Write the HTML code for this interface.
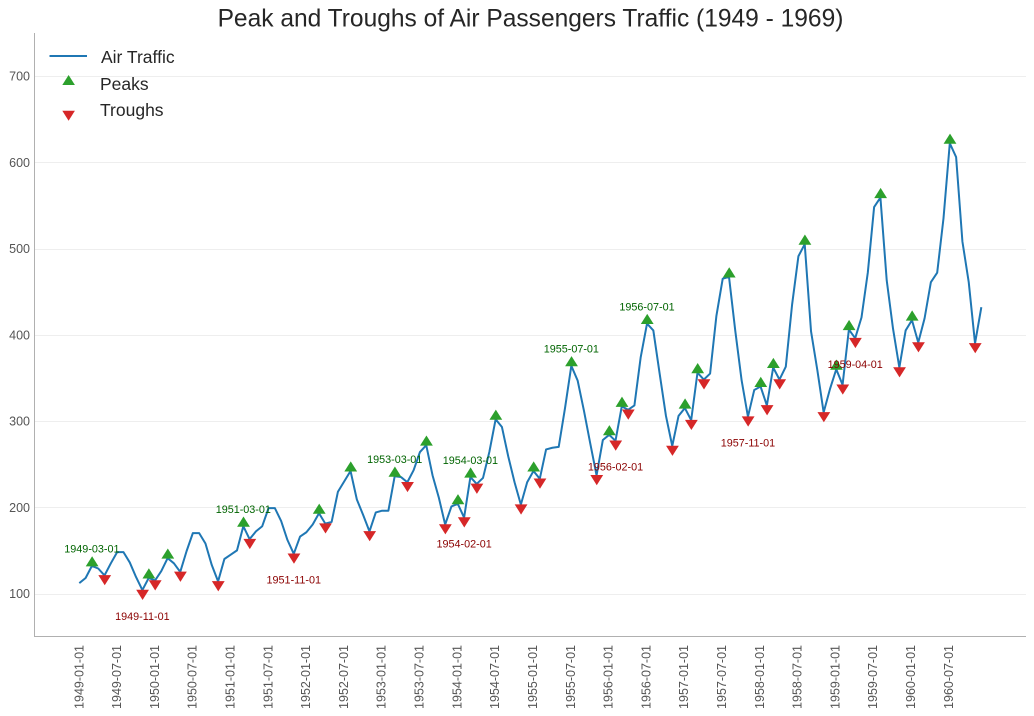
<!DOCTYPE html>
<html>
<head>
<meta charset="utf-8">
<title>Peak and Troughs of Air Passengers Traffic</title>
<style>
html,body{margin:0;padding:0;background:#fff;}
svg{display:block;font-family:"Liberation Sans",sans-serif;}
</style>
</head>
<body>
<svg id="chart" width="1034" height="716" viewBox="0 0 1034 716" xmlns="http://www.w3.org/2000/svg">
  <rect x="0" y="0" width="1034" height="716" fill="#ffffff"/>
  <text x="530.5" y="26.5" text-anchor="middle" font-size="24.55" fill="#262626">Peak and Troughs of Air Passengers Traffic (1949 - 1969)</text>
  <g id="grid"></g>
  <line x1="34.5" y1="33" x2="34.5" y2="636.5" stroke="#b0b0b0" stroke-width="1"/>
  <line x1="34" y1="636.5" x2="1026" y2="636.5" stroke="#b0b0b0" stroke-width="1"/>
  <g id="yticks"></g>
  <g id="xticks"></g>
  <path id="traffic-line" fill="none" stroke="#1f77b4" stroke-width="2" stroke-linejoin="round"/>
  <g id="peaks"></g>
  <g id="troughs"></g>
  <g id="labels"></g>
  <g>
    <g>
      <line x1="49.5" y1="56" x2="87" y2="56" stroke="#1f77b4" stroke-width="2"/>
      <text x="101" y="63" font-size="17.5" fill="#262626">Air Traffic</text>
    </g>
    <g>
      <polygon points="62.3,85 74.9,85 68.6,75" fill="#2ca02c"/>
      <text x="100" y="90" font-size="17.5" fill="#262626">Peaks</text>
    </g>
    <g>
      <polygon points="62.3,110.8 74.9,110.8 68.6,120.8" fill="#d62728"/>
      <text x="100" y="116" font-size="17.5" fill="#262626">Troughs</text>
    </g>
  </g>
</svg>
<script>
const categories = [
  "1949-01-01","1949-02-01","1949-03-01","1949-04-01","1949-05-01","1949-06-01","1949-07-01","1949-08-01","1949-09-01","1949-10-01","1949-11-01","1949-12-01",
  "1950-01-01","1950-02-01","1950-03-01","1950-04-01","1950-05-01","1950-06-01","1950-07-01","1950-08-01","1950-09-01","1950-10-01","1950-11-01","1950-12-01",
  "1951-01-01","1951-02-01","1951-03-01","1951-04-01","1951-05-01","1951-06-01","1951-07-01","1951-08-01","1951-09-01","1951-10-01","1951-11-01","1951-12-01",
  "1952-01-01","1952-02-01","1952-03-01","1952-04-01","1952-05-01","1952-06-01","1952-07-01","1952-08-01","1952-09-01","1952-10-01","1952-11-01","1952-12-01",
  "1953-01-01","1953-02-01","1953-03-01","1953-04-01","1953-05-01","1953-06-01","1953-07-01","1953-08-01","1953-09-01","1953-10-01","1953-11-01","1953-12-01",
  "1954-01-01","1954-02-01","1954-03-01","1954-04-01","1954-05-01","1954-06-01","1954-07-01","1954-08-01","1954-09-01","1954-10-01","1954-11-01","1954-12-01",
  "1955-01-01","1955-02-01","1955-03-01","1955-04-01","1955-05-01","1955-06-01","1955-07-01","1955-08-01","1955-09-01","1955-10-01","1955-11-01","1955-12-01",
  "1956-01-01","1956-02-01","1956-03-01","1956-04-01","1956-05-01","1956-06-01","1956-07-01","1956-08-01","1956-09-01","1956-10-01","1956-11-01","1956-12-01",
  "1957-01-01","1957-02-01","1957-03-01","1957-04-01","1957-05-01","1957-06-01","1957-07-01","1957-08-01","1957-09-01","1957-10-01","1957-11-01","1957-12-01",
  "1958-01-01","1958-02-01","1958-03-01","1958-04-01","1958-05-01","1958-06-01","1958-07-01","1958-08-01","1958-09-01","1958-10-01","1958-11-01","1958-12-01",
  "1959-01-01","1959-02-01","1959-03-01","1959-04-01","1959-05-01","1959-06-01","1959-07-01","1959-08-01","1959-09-01","1959-10-01","1959-11-01","1959-12-01",
  "1960-01-01","1960-02-01","1960-03-01","1960-04-01","1960-05-01","1960-06-01","1960-07-01","1960-08-01","1960-09-01","1960-10-01","1960-11-01","1960-12-01"
];
const trafficValues = [
  112,118,132,129,121,135,148,148,136,119,104,118,
  115,126,141,135,125,149,170,170,158,133,114,140,
  145,150,178,163,172,178,199,199,184,162,146,166,
  171,180,193,181,183,218,230,242,209,191,172,194,
  196,196,236,235,229,243,264,272,237,211,180,201,
  204,188,235,227,234,264,302,293,259,229,203,229,
  242,233,267,269,270,315,364,347,312,274,237,278,
  284,277,317,313,318,374,413,405,355,306,271,306,
  315,301,356,348,355,422,465,467,404,347,305,336,
  340,318,362,348,363,435,491,505,404,359,310,337,
  360,342,406,396,420,472,548,559,463,407,362,405,
  417,391,419,461,472,535,622,606,508,461,390,432
];
const peakDates = ["1949-03-01","1949-12-01","1950-03-01","1951-03-01","1952-03-01","1952-08-01","1953-03-01","1953-08-01","1954-01-01","1954-03-01","1954-07-01","1955-01-01","1955-07-01","1956-01-01","1956-03-01","1956-07-01","1957-01-01","1957-03-01","1957-08-01","1958-01-01","1958-03-01","1958-08-01","1959-01-01","1959-03-01","1959-08-01","1960-01-01","1960-07-01"];
const troughDates = ["1949-05-01","1949-11-01","1950-01-01","1950-05-01","1950-11-01","1951-04-01","1951-11-01","1952-04-01","1952-11-01","1953-05-01","1953-11-01","1954-02-01","1954-04-01","1954-11-01","1955-02-01","1955-11-01","1956-02-01","1956-04-01","1956-11-01","1957-02-01","1957-04-01","1957-11-01","1958-02-01","1958-04-01","1958-11-01","1959-02-01","1959-04-01","1959-11-01","1960-02-01","1960-11-01"];
const peakLabels = ["1949-03-01","1951-03-01","1953-03-01","1954-03-01","1955-07-01","1956-07-01"];
const troughLabels = ["1949-11-01","1951-11-01","1954-02-01","1956-02-01","1957-11-01","1959-04-01"];
const xTickLabels = ["1949-01-01","1949-07-01","1950-01-01","1950-07-01","1951-01-01","1951-07-01","1952-01-01","1952-07-01","1953-01-01","1953-07-01","1954-01-01","1954-07-01","1955-01-01","1955-07-01","1956-01-01","1956-07-01","1957-01-01","1957-07-01","1958-01-01","1958-07-01","1959-01-01","1959-07-01","1960-01-01","1960-07-01"];
const yTickValues = [100,200,300,400,500,600,700];
const peakLabelOffset = 20;
const troughLabelOffset = -30;

const NS = "http://www.w3.org/2000/svg";
function xScale(date){ return 79.3 + categories.indexOf(date) * 6.308; }
function tickX(date){ return 78.8 + categories.indexOf(date) * 6.301; }
function yScale(v){ return 593.5 - (v - 100) * 0.8625; }
function valueAt(date){ return trafficValues[categories.indexOf(date)]; }
function make(tag, parentId){
  const el = document.createElementNS(NS, tag);
  document.getElementById(parentId).appendChild(el);
  return el;
}

yTickValues.forEach(function(v){
  const g = make("line", "grid");
  
  
  const py = Math.round(yScale(v)) + 0.5;
  g.setAttribute("x1", 35); g.setAttribute("x2", 1026);
  g.setAttribute("y1", py); g.setAttribute("y2", py);
  g.setAttribute("stroke", "#eeeeee"); g.setAttribute("stroke-width", 1);
  const t = make("text", "yticks");
  
  
  t.setAttribute("x", 30); t.setAttribute("y", yScale(v) + 4.5);
  t.setAttribute("text-anchor", "end"); t.setAttribute("font-size", 12.5); t.setAttribute("fill", "#555555");
  t.textContent = v;
});

xTickLabels.forEach(function(d){
  const t = make("text", "xticks");
  
  
  const px = tickX(d) + 4.5;
  t.setAttribute("transform", "translate(" + px + ",645) rotate(-90)");
  t.setAttribute("text-anchor", "end"); t.setAttribute("font-size", 12.5); t.setAttribute("fill", "#555555");
  t.textContent = d;
});

document.getElementById("traffic-line").setAttribute("d",
  categories.map(function(d, i){ return (i ? "L" : "M") + xScale(d).toFixed(2) + " " + yScale(trafficValues[i]).toFixed(2); }).join(""));

peakDates.forEach(function(d){
  const m = make("polygon", "peaks");
  
  
  const px = xScale(d) + 0.2, py = yScale(valueAt(d)) + 0.5;
  m.setAttribute("points", (px-6.4)+","+py+" "+(px+6.4)+","+py+" "+px+","+(py-10.2));
  m.setAttribute("fill", "#2ca02c");
});
troughDates.forEach(function(d){
  const m = make("polygon", "troughs");
  
  
  const px = xScale(d) + 0.2, py = yScale(valueAt(d)) - 0.3;
  m.setAttribute("points", (px-6.4)+","+py+" "+(px+6.4)+","+py+" "+px+","+(py+10.2));
  m.setAttribute("fill", "#d62728");
});

peakLabels.forEach(function(d){
  const t = make("text", "labels");
  
  
  t.setAttribute("x", xScale(d)); t.setAttribute("y", yScale(valueAt(d) + peakLabelOffset) + 4);
  t.setAttribute("text-anchor", "middle"); t.setAttribute("font-size", 10.8); t.setAttribute("fill", "#006400");
  t.textContent = d;
});
troughLabels.forEach(function(d){
  const t = make("text", "labels");
  
  
  t.setAttribute("x", xScale(d)); t.setAttribute("y", yScale(valueAt(d) + troughLabelOffset) + 4);
  t.setAttribute("text-anchor", "middle"); t.setAttribute("font-size", 10.8); t.setAttribute("fill", "#8b0000");
  t.textContent = d;
});
</script>
</body>
</html>
